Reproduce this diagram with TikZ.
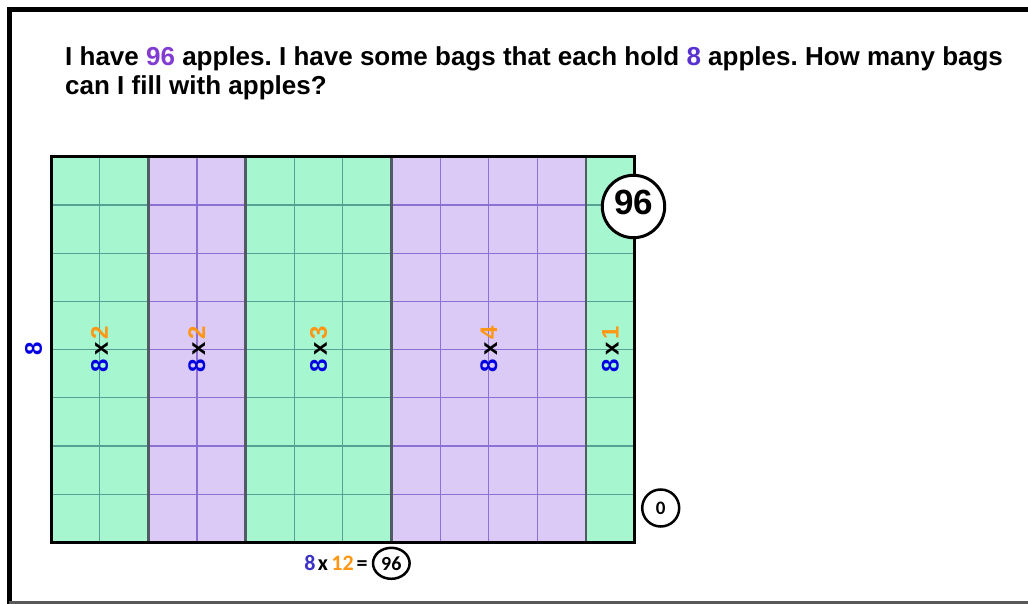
\documentclass[tikz,border=0pt]{standalone}
\usepackage{fontspec}
\setmainfont{Liberation Sans}
\newfontfamily\calib{Carlito}
\usetikzlibrary{shapes.geometric}
\frenchspacing
\definecolor{mint}{RGB}{166,246,208}
\definecolor{lilac}{RGB}{219,201,246}
\definecolor{mintline}{RGB}{88,160,150}
\definecolor{lilacline}{RGB}{140,112,212}
\definecolor{divider}{RGB}{82,90,100}
\definecolor{numblue}{RGB}{0,0,225}
\definecolor{numorange}{RGB}{255,150,20}
\definecolor{eqblue}{RGB}{60,50,200}
\definecolor{qpurple}{RGB}{130,60,210}
\definecolor{qblue}{RGB}{90,50,210}
\tikzset{
  titletext/.style={font=\bfseries\fontsize{26}{30}\selectfont, inner sep=0pt},
  vlab/.style={rotate=90, font=\bfseries\fontsize{24}{24}\selectfont, inner sep=0pt},
  gridline/.style={line width=1.2pt},
  eqtext/.style={font=\calib\bfseries\fontsize{22}{22}\selectfont, inner sep=0pt, anchor=base},
}
\newcommand{\cw}{48.64}
\newcommand{\rh}{48.225}
\begin{document}
\begin{tikzpicture}[x=1pt,y=-1pt]
\useasboundingbox (0,0) rectangle (1028,604);
\fill[white] (0,0) rectangle (1028,604);
% frame
\draw[line width=5pt, line join=miter] (9.2,604) -- (9.2,10) -- (1028,10);
\draw[line width=3pt, black!65] (9.2,602.5) -- (1028,602.5);
% question
\node[titletext, anchor=base west] (q1) at (65,66) {I have \textcolor{qpurple}{96} apples. I have some bags that each hold \textcolor{qblue}{8} apples. How many bags};
\node[titletext, anchor=base west] (q2) at (65,95) {can I fill with apples?};
% section fills
\foreach \a/\b/\c in {0/2/mint,2/4/lilac,4/7/mint,7/11/lilac,11/12/mint}
  \fill[\c] ({51+\a*\cw},156.7) rectangle ({51+\b*\cw},542.5);
% horizontal grid lines
\foreach \a/\b/\c in {0/2/mintline,2/4/lilacline,4/7/mintline,7/11/lilacline,11/12/mintline}
  \foreach \j in {1,...,7}
    \draw[gridline, \c] ({51+\a*\cw},{156.7+\j*\rh}) -- ({51+\b*\cw},{156.7+\j*\rh});
% vertical grid lines
\foreach \i/\c in {1/mintline,3/lilacline,5/mintline,6/mintline,8/lilacline,9/lilacline,10/lilacline}
  \draw[gridline, \c] ({51+\i*\cw},156.7) -- ({51+\i*\cw},542.5);
% dividers
\foreach \i in {2,4,7,11}
  \draw[divider, line width=2.5pt] ({51+\i*\cw},156.7) -- ({51+\i*\cw},542.5);
% outer border
\draw[line width=3pt] (51,156.7) rectangle (634.7,542.5);
% rotated labels
\node[vlab] (l1) at ({51+1*\cw},349) {\textcolor{numblue}{8}\hspace{3pt}x\hspace{3pt}\textcolor{numorange}{2}};
\node[vlab] (l2) at ({51+3*\cw},349) {\textcolor{numblue}{8}\hspace{3pt}x\hspace{3pt}\textcolor{numorange}{2}};
\node[vlab] (l3) at ({51+5.5*\cw},349) {\textcolor{numblue}{8}\hspace{3pt}x\hspace{3pt}\textcolor{numorange}{3}};
\node[vlab] (l4) at ({51+9*\cw},349) {\textcolor{numblue}{8}\hspace{3pt}x\hspace{3pt}\textcolor{numorange}{4}};
\node[vlab] (l5) at ({51+11.5*\cw},349) {\textcolor{numblue}{8}\hspace{3pt}x\hspace{3pt}\textcolor{numorange}{1}};
\node[vlab, text=numblue] (side) at (33.5,348.5) {8};
% circles
\node[circle, draw, line width=3pt, fill=white, minimum size=62.4pt, inner sep=0pt, text depth=8pt,
      font=\bfseries\fontsize{35}{35}\selectfont] (top96) at (633.5,206.5) {96};
\node[circle, draw, line width=2.5pt, fill=white, minimum size=37pt, inner sep=0pt,
      font=\calib\bfseries\fontsize{19}{19}\selectfont] (zero) at (660.7,508) {0};
% equation
\node[eqtext, text=eqblue] (e8) at (310,570) {8};
\node[eqtext] (ex) at (323,570) {x};
\node[eqtext, text=numorange] (e12) at (342.5,570) {12};
\node[eqtext] (eeq) at (362,570) {=};
\node[ellipse, draw, line width=2.5pt, fill=white, minimum width=36.6pt, minimum height=31pt, inner sep=0pt,
      font=\calib\bfseries\fontsize{20}{20}\selectfont] (e96) at (391.3,563.3) {96};
\end{tikzpicture}
\end{document}
